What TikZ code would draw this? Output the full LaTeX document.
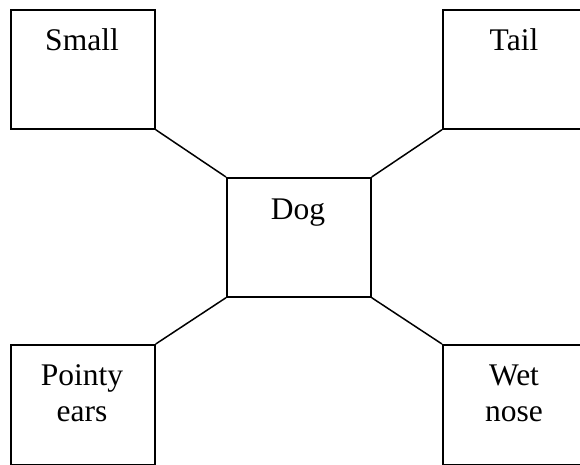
\documentclass[tikz,border=0pt]{standalone}
\usepackage{fontspec}
\setmainfont{Liberation Serif}
\begin{document}
\begin{tikzpicture}[x=1pt,y=-1pt,
  box/.style={draw=black,line width=1.7pt,minimum width=144pt,minimum height=119pt,inner sep=0pt,anchor=north west},
  lbl/.style={font=\fontsize{31.5}{36}\selectfont,align=center,anchor=base,inner sep=0pt},
  conn/.style={draw=black,line width=1.5pt}]
\useasboundingbox (0,0) rectangle (580,464);
\clip (0,0) rectangle (580,464);
\node[box] (small) at (10,9) {};
\node[box] (tail) at (442,9) {};
\node[box] (dog) at (226,177) {};
\node[box,minimum height=120pt] (pointy) at (10,344) {};
\node[box,minimum height=120pt] (wet) at (442,344) {};
\node[lbl] (tsmall) at (82,50) {Small};
\node[lbl] (ttail) at (514,50) {Tail};
\node[lbl] (tdog) at (298,219) {Dog};
\node[lbl] (tpointy) at (82,421) {Pointy\\ears};
\node[lbl] (twet) at (514,421) {Wet\\nose};
\draw[conn] (small.south east) -- (dog.north west);
\draw[conn] (tail.south west) -- (dog.north east);
\draw[conn] (pointy.north east) -- (dog.south west);
\draw[conn] (wet.north west) -- (dog.south east);
\end{tikzpicture}
\end{document}
